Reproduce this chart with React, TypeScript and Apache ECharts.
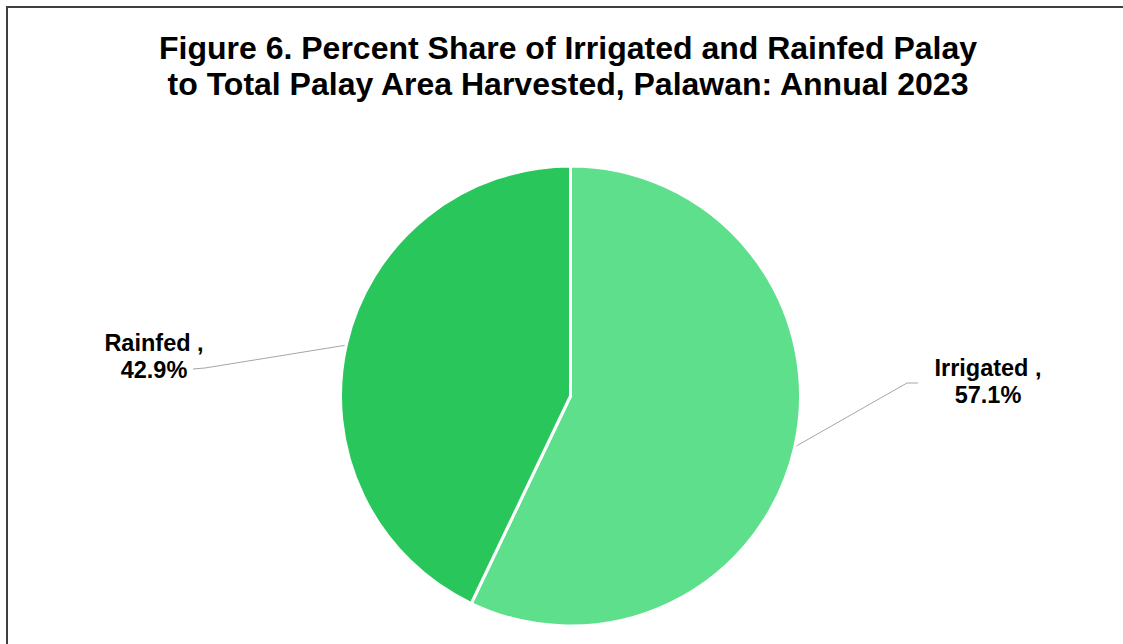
import React, { useEffect, useRef } from "react";
import * as echarts from "echarts";

const titleLines = [
  "Figure 6. Percent Share of Irrigated and Rainfed Palay",
  "to Total Palay Area Harvested, Palawan: Annual 2023",
];
const categories = ["Irrigated", "Rainfed"];
const shares = [57.1, 42.9];
const sliceColors = ["#5EDF8B", "#29C65C"];

// label anchor (centre of label block) and leader-line elbow/end per slice
const labelAnchors = [
  { x: 988, y: 381, elbow: [907, 383], end: [918, 383] },
  { x: 154, y: 356, elbow: [205, 368], end: [193, 369] },
];

export default function App() {
  const ref = useRef<HTMLDivElement>(null);
  useEffect(() => {
    if (!ref.current) return;
    const chart = echarts.init(ref.current, null, { renderer: "svg" });
    chart.setOption({
      animation: false,
      backgroundColor: "#ffffff",
      title: {
        text: titleLines.join("\n"),
        left: 563,
        top: 25,
        textAlign: "center",
        textStyle: {
          fontFamily: "Liberation Sans, Arial, sans-serif",
          fontWeight: "bold",
          fontSize: 32,
          lineHeight: 36,
          color: "#000000",
        },
      },
      graphic: [
        {
          type: "rect",
          shape: { x: 7, y: 7, width: 1300, height: 800 },
          style: { fill: "none", stroke: "#404040", lineWidth: 2 },
          silent: true,
        },
      ],
      series: [
        {
          type: "pie",
          center: [570.5, 396],
          radius: 230,
          startAngle: 90,
          clockwise: true,
          data: categories.map((name, i) => ({
            name,
            value: shares[i],
            itemStyle: { color: sliceColors[i] },
          })),
          itemStyle: { borderColor: "#ffffff", borderWidth: 3 },
          label: {
            show: true,
            position: "outside",
            formatter: (p: any) => `${p.name} ,\n${p.value.toFixed(1)}%`,
            fontFamily: "Liberation Sans, Arial, sans-serif",
            fontWeight: "bold",
            fontSize: 23.5,
            lineHeight: 27,
            color: "#000000",
            align: "center",
          },
          labelLine: {
            show: true,
            length: 20,
            length2: 10,
            lineStyle: { color: "#A6A6A6", width: 1 },
          },
          labelLayout: (params: any) => {
            const a = labelAnchors[params.dataIndex];
            const start =
              params.labelLinePoints && params.labelLinePoints[0]
                ? params.labelLinePoints[0]
                : a.elbow;
            return {
              x: a.x,
              y: a.y,
              align: "center",
              verticalAlign: "middle",
              labelLinePoints: [start, a.elbow, a.end],
            };
          },
          emphasis: { disabled: true },
        },
      ],
    });
    return () => chart.dispose();
  }, []);
  return (
    <div
      ref={ref}
      style={{ position: "absolute", left: 0, top: 0, width: 1123, height: 644 }}
    />
  );
}
